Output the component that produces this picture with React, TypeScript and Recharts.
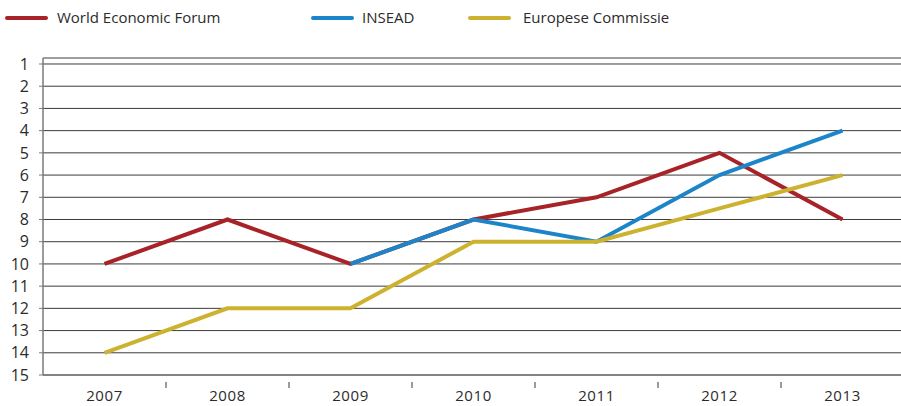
import React from "react";
import { LineChart, Line, XAxis, YAxis, CartesianGrid } from "recharts";

const years = ["2007", "2008", "2009", "2010", "2011", "2012", "2013"];
const wef = [10, 8, 10, 8, 7, 5, 8];
const insead = [null, null, 10, 8, 9, 6, 4];
const ec = [14, 12, 12, 9, 9, 7.5, 6];
const yTicks = [1, 2, 3, 4, 5, 6, 7, 8, 9, 10, 11, 12, 13, 14, 15];

const series = [
  { key: "wef", name: "World Economic Forum", color: "#a82328" },
  { key: "insead", name: "INSEAD", color: "#1c84c8" },
  { key: "ec", name: "Europese Commissie", color: "#cdb22f" },
];

const data = years.map((y, i) => ({ year: y, wef: wef[i], insead: insead[i], ec: ec[i] }));

const CHART_W = 918;
const CHART_H = 406;
const MARGIN = { top: 58, right: 14, bottom: 0, left: 0 };
const X_H = 31;
const Y_W = 43;
const PLOT_W = CHART_W - MARGIN.left - MARGIN.right - Y_W;
const BAND = PLOT_W / years.length;
const FONT = "'Open Sans', sans-serif";

const legendPos = [
  { lineX: 7, textX: 57 },
  { lineX: 313, textX: 362 },
  { lineX: 470, textX: 523 },
];

const LegendBox = () => (
  <svg width={700} height={36} style={{ position: "absolute", left: 0, top: 0, display: "block" }}>
    {series.map((s, i) => (
      <g key={s.key}>
        <line x1={legendPos[i].lineX} x2={legendPos[i].lineX + 39} y1={18} y2={18} stroke={s.color} strokeWidth={4} strokeLinecap="round" />
        <text x={legendPos[i].textX} y={23} fontSize={15} fill="#2b2b2b" fontFamily={FONT}>{s.name}</text>
      </g>
    ))}
  </svg>
);

const XTick = (props: any) => {
  const { x, y, payload, index } = props;
  return (
    <g>
      {index < years.length - 1 && (
        <line x1={x + BAND / 2} x2={x + BAND / 2} y1={y - 1} y2={y + 5} stroke="#7a7a7a" strokeWidth={1.5} />
      )}
      <text x={x} y={y + 18} textAnchor="middle" fontSize={15} letterSpacing={0.6} fill="#2b2b2b" fontFamily={FONT}>{payload.value}</text>
    </g>
  );
};

export default function App() {
  return (
    <div style={{ position: "fixed", left: 0, top: 0, width: 901, height: 406, overflow: "hidden", background: "#fff" }}>
      <LineChart width={CHART_W} height={CHART_H} data={data} margin={MARGIN}>
        <CartesianGrid vertical={false} stroke="#3c3c3c" strokeWidth={1} />
        <XAxis
          dataKey="year"
          tick={<XTick />}
          tickLine={false}
          axisLine={{ stroke: "#7a7a7a", strokeWidth: 1.5 }}
          interval={0}
          height={X_H}
          padding={{ left: BAND / 2, right: BAND / 2 }}
        />
        <YAxis
          reversed
          type="number"
          domain={[0.73, 15]}
          ticks={yTicks}
          interval={0}
          width={Y_W}
          tickSize={4}
          tickMargin={10}
          tickLine={{ stroke: "#7a7a7a" }}
          axisLine={{ stroke: "#7a7a7a", strokeWidth: 1.5 }}
          tick={{ fontSize: 16, fill: "#2b2b2b", fontFamily: FONT }}
          allowDataOverflow
        />
        {series.map((s) => (
          <Line
            key={s.key}
            dataKey={s.key}
            name={s.name}
            stroke={s.color}
            strokeWidth={4}
            dot={false}
            activeDot={false}
            isAnimationActive={false}
            type="linear"
          />
        ))}
      </LineChart>
      <LegendBox />
    </div>
  );
}
